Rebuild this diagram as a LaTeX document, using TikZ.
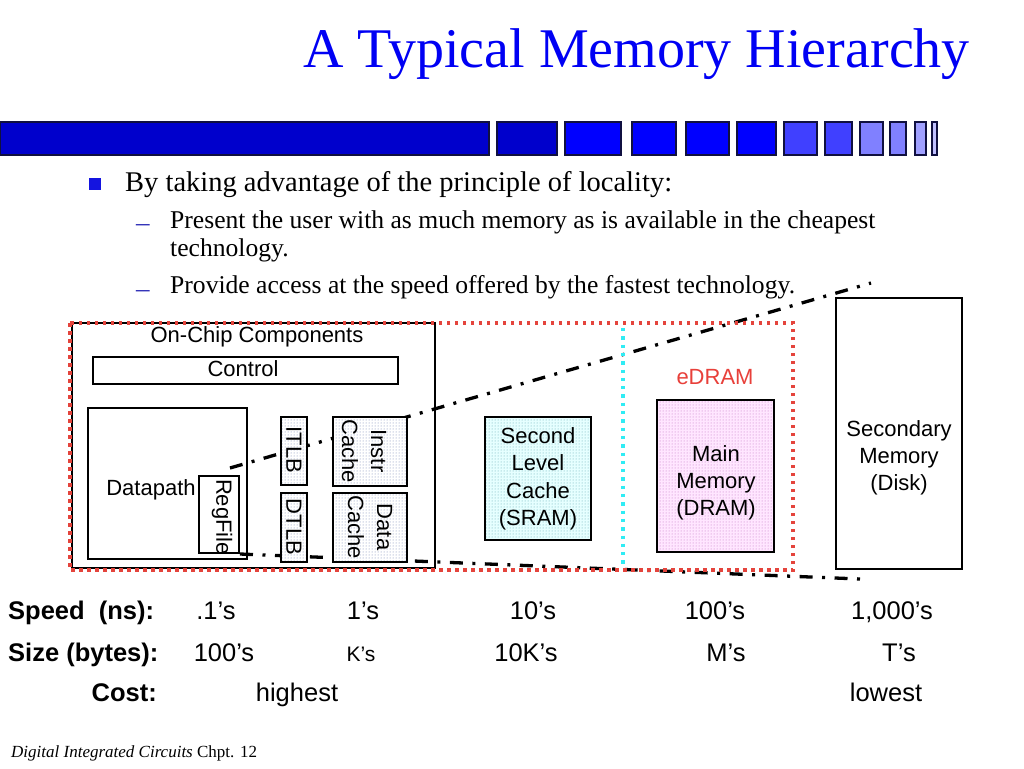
\documentclass[tikz,border=0pt]{standalone}
\usepackage{fontspec}
\setmainfont{Liberation Serif}
\newfontfamily\arial{Liberation Sans}
\usetikzlibrary{patterns}
\definecolor{barA}{HTML}{0000CC}
\definecolor{barB}{HTML}{0000FF}
\definecolor{barC}{HTML}{4040FF}
\definecolor{barD}{HTML}{8080FF}
\definecolor{barE}{HTML}{A0A0FF}
\definecolor{barF}{HTML}{C0C0FF}
\definecolor{baredge}{HTML}{101040}
\definecolor{redDot}{HTML}{E4443C}
\definecolor{cyanDot}{HTML}{30ECF4}
\definecolor{tlbDot}{HTML}{7080B0}
\definecolor{sramFill}{HTML}{E6FFFF}
\definecolor{sramDot}{HTML}{60A8B0}
\definecolor{dramFill}{HTML}{FFE6FF}
\definecolor{dramDot}{HTML}{C070C0}
\definecolor{titleBlue}{HTML}{0000F4}
\definecolor{bulletBlue}{HTML}{1414E0}
\definecolor{dashBlue}{HTML}{3030B8}
\definecolor{edramRed}{HTML}{E8403A}
\begin{document}
\begin{tikzpicture}[x=1pt,y=-1pt,
  barblock/.style={draw=baredge, line width=1.2pt},
  box/.style={draw=black, line width=2pt, inner sep=0pt, outer sep=0pt},
  whitebox/.style={box, fill=white},
  dotbox/.style={box, preaction={fill=white}, pattern=dots, pattern color=tlbDot},
  srambox/.style={box, line width=2.6pt, preaction={fill=sramFill}, pattern=dots, pattern color=sramDot},
  drambox/.style={box, line width=2.6pt, preaction={fill=dramFill}, pattern=dots, pattern color=dramDot},
  lbl/.style={font=\arial\fontsize{22}{27}\selectfont, inner sep=0pt, anchor=base},
  rlbl/.style={font=\arial\fontsize{22}{29}\selectfont, inner sep=0pt, anchor=center, rotate=-90, align=center},
  row/.style={font=\arial\fontsize{25.5}{30}\selectfont, inner sep=0pt, anchor=base},
  rowhead/.style={font=\arial\bfseries\fontsize{25.5}{30}\selectfont, inner sep=0pt},
  body/.style={inner sep=0pt, anchor=base west},
  subtext/.style={body, font=\fontsize{25.6}{30}\selectfont},
  subdash/.style={body, text=dashBlue, font=\fontsize{27}{30}\selectfont},
  perspective/.style={line width=3.3pt, dash pattern=on 13pt off 9.5pt on 3pt off 9.5pt},
]
\useasboundingbox (0,0) rectangle (1024,768);
\fill[white] (0,0) rectangle (1024,768);

% title
\node[inner sep=0pt, anchor=base east, text=titleBlue, font=\fontsize{56}{60}\selectfont] (title) at (970,67) {A Typical Memory Hierarchy};

% header bar
\draw[barblock, fill=barA] (0,122) rectangle (489,155);
\draw[barblock, fill=barA] (497,122) rectangle (557,155);
\draw[barblock, fill=barB] (565,122) rectangle (621,155);
\draw[barblock, fill=barB] (632,122) rectangle (676,155);
\draw[barblock, fill=barB] (686,122) rectangle (729,155);
\draw[barblock, fill=barB] (737,122) rectangle (776,155);
\draw[barblock, fill=barC] (784,122) rectangle (817,155);
\draw[barblock, fill=barC] (825,122) rectangle (852,155);
\draw[barblock, fill=barD] (860,122) rectangle (883,155);
\draw[barblock, fill=barD] (890,122) rectangle (906,155);
\draw[barblock, fill=barE] (915,122) rectangle (926,155);
\draw[barblock, fill=barF] (932,122) rectangle (937,155);

% bullets
\fill[bulletBlue] (89,178) rectangle (101,190);
\node[body, font=\fontsize{28.5}{32}\selectfont] (b1) at (125,191) {By taking advantage of the principle of locality:};
\node[subdash] (d1) at (136,231) {–};
\node[subtext] (b2) at (170,228) {Present the user with as much memory as is available in the cheapest};
\node[subtext] (b3) at (170,256) {technology.};
\node[subdash] (d2) at (136,297) {–};
\node[subtext] (b4) at (170,293) {Provide access at the speed offered by the fastest technology.};

% on-chip box
\node[box, minimum width=363, minimum height=245] (onchip) at (253.5,445.5) {};
\node[lbl] (onchiplbl) at (257,342) {On-Chip Components};
\node[box, minimum width=305, minimum height=27] (control) at (245.5,370.5) {};
\node[lbl] (controllbl) at (243,376) {Control};
\node[box, minimum width=159, minimum height=151] (datapath) at (167.5,483.5) {};
\node[lbl] (datapathlbl) at (151,495) {Datapath};
\node[whitebox, minimum width=40, minimum height=77] (regfile) at (219,514.5) {};
\node[rlbl] (regfilelbl) at (222,517) {RegFile};

% perspective lines
\coordinate (u1) at (230,468);
\coordinate (u2) at (871,283);
\coordinate (l1) at (240,554);
\coordinate (l2) at (860,579);
\draw[perspective] (u1) -- (u2);
\draw[perspective] (l1) -- (l2);

% TLBs and caches
\node[dotbox, minimum width=26, minimum height=68] (itlb) at (294,451) {};
\node[rlbl] (itlblbl) at (294,450) {ITLB};
\node[dotbox, minimum width=26, minimum height=69] (dtlb) at (294,527.5) {};
\node[rlbl] (dtlblbl) at (294,527) {DTLB};
\node[dotbox, minimum width=74, minimum height=69] (icache) at (370,451.5) {};
\node[rlbl] (icachelbl) at (364,451) {Instr\\Cache};
\node[dotbox, minimum width=74, minimum height=69] (dcache) at (370,527.5) {};
\node[rlbl] (dcachelbl) at (370,527) {Data\\Cache};

% second level cache
\node[srambox, minimum width=106, minimum height=123] (sram) at (538,478.5) {};
\node[lbl] (s1) at (538,443) {Second};
\node[lbl] (s2) at (538,470) {Level};
\node[lbl] (s3) at (538,498) {Cache};
\node[lbl] (s4) at (538,525) {(SRAM)};

% main memory
\node[lbl, text=edramRed] (edram) at (715,384) {eDRAM};
\node[drambox, minimum width=117, minimum height=152] (dram) at (715.5,476) {};
\node[lbl] (m1) at (716,461) {Main};
\node[lbl] (m2) at (716,488) {Memory};
\node[lbl] (m3) at (716,515) {(DRAM)};

% secondary memory
\node[box, minimum width=126, minimum height=271] (disk) at (899,433.5) {};
\node[lbl] (k1) at (899,436) {Secondary};
\node[lbl] (k2) at (899,463) {Memory};
\node[lbl] (k3) at (899,490) {(Disk)};

% dotted boundaries
\draw[redDot, line width=3.5pt, dash pattern=on 3.5pt off 4.5pt] (70,323) rectangle (793,570);
\draw[cyanDot, line width=3.3pt, dash pattern=on 3.3pt off 5pt] (623,328) -- (623,568);

% rows
\node[rowhead, anchor=base west] (speedh) at (8,619) {Speed~~(ns):};
\node[row] (sp1) at (216,619) {.1’s};
\node[row] (sp2) at (363,619) {1’s};
\node[row] (sp3) at (533,619) {10’s};
\node[row] (sp4) at (715,619) {100’s};
\node[row] (sp5) at (892,619) {1,000’s};

\node[rowhead, anchor=base west] (sizeh) at (8,661) {Size (bytes):};
\node[row] (sz1) at (224,661) {100’s};
\node[row, font=\arial\fontsize{21}{25}\selectfont] (sz2) at (361,661) {K’s};
\node[row] (sz3) at (526,661) {10K’s};
\node[row] (sz4) at (726,661) {M’s};
\node[row] (sz5) at (899,661) {T’s};

\node[rowhead, anchor=base east] (costh) at (157,701) {Cost:};
\node[row] (c1) at (297,701) {highest};
\node[row] (c2) at (886,701) {lowest};

% footer
\node[body, font=\fontsize{17}{20}\selectfont] (footer) at (11,757) {\textit{Digital Integrated Circuits} Chpt. 12};
\end{tikzpicture}
\end{document}
